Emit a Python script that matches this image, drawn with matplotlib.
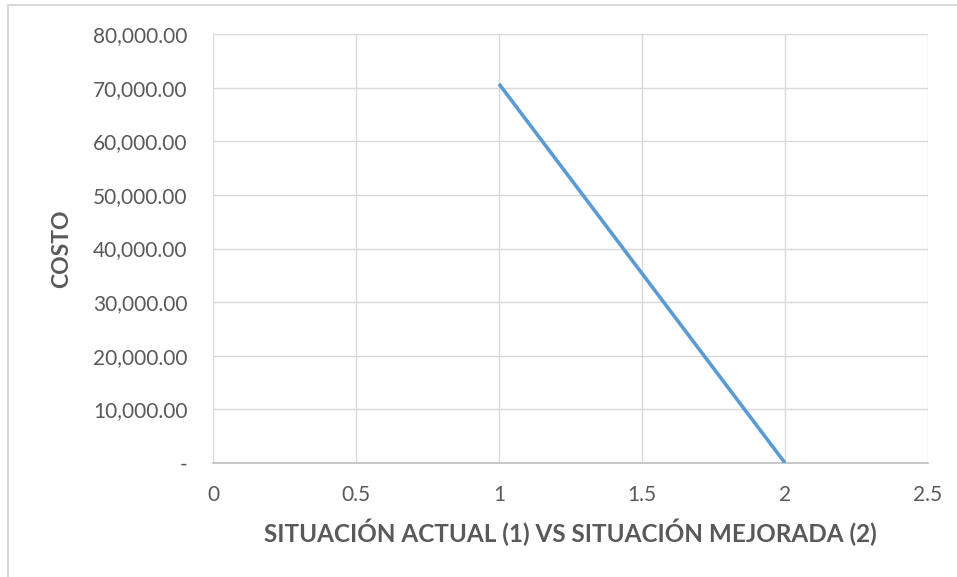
import matplotlib
matplotlib.use("Agg")
import matplotlib.pyplot as plt
from matplotlib.lines import Line2D
from matplotlib.ticker import FuncFormatter

# costo por escenario: situación actual (1) y situación mejorada (2)
situacion = [1, 2]
costo = [70700, 0]

x_ticks = [0, 0.5, 1, 1.5, 2, 2.5]
y_ticks = [0, 10000, 20000, 30000, 40000, 50000, 60000, 70000, 80000]

plt.rcParams["font.family"] = ["Lato", "DejaVu Sans"]

W, H = 957, 577
fig = plt.figure(figsize=(W / 100, H / 100), dpi=100)
ax = fig.add_axes([213 / W, 1 - 463 / H, (928 - 213) / W, (463 - 34) / H])

ax.plot(situacion, costo, color="#5B9BD5", linewidth=2.6, solid_capstyle="butt", zorder=3)

ax.set_xlim(0, 2.5)
ax.set_ylim(0, 80000)
ax.set_xticks(x_ticks)
ax.set_yticks(y_ticks)
ax.xaxis.set_major_formatter(FuncFormatter(lambda v, p: f"{v:g}"))
ax.yaxis.set_major_formatter(FuncFormatter(lambda v, p: "-" if v == 0 else f"{v:,.2f}"))
ax.tick_params(length=0, labelsize=15, labelcolor="#595959")
ax.tick_params(axis="y", pad=18.5)
ax.tick_params(axis="x", pad=16)

ax.grid(True, color="#D9D9D9", linewidth=1.0)
ax.set_axisbelow(True)
for side in ["top", "right", "left"]:
    ax.spines[side].set_visible(False)
ax.spines["bottom"].set_color("#BFBFBF")
ax.spines["bottom"].set_linewidth(1.2)

ax.set_xlabel("SITUACIÓN ACTUAL (1) VS SITUACIÓN MEJORADA (2)", fontsize=17.5,
              fontweight="bold", color="#595959", labelpad=9.5)
ax.set_ylabel("COSTO", fontsize=16.5, fontweight="bold", color="#595959", labelpad=15)

# marco exterior del gráfico
frame = dict(color="#D9D9D9", linewidth=1.5, transform=fig.transFigure)
fig.add_artist(Line2D([8 / W, 1], [1 - 5 / H, 1 - 5 / H], **frame))
fig.add_artist(Line2D([8 / W, 8 / W], [0, 1 - 5 / H], **frame))

fig.savefig("out.png", dpi=100)
